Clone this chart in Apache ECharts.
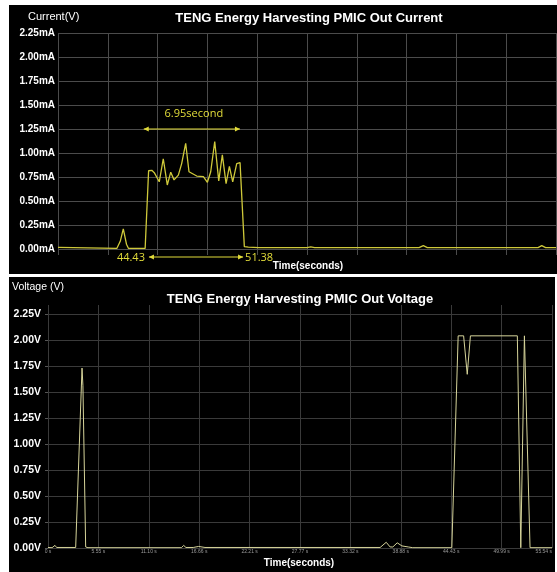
<!DOCTYPE html>
<html>
<head>
<meta charset="utf-8">
<script src="https://cdn.jsdelivr.net/npm/echarts@6/dist/echarts.min.js"></script>
<style>
  html, body { margin: 0; padding: 0; background: #fff; width: 557px; height: 572px; overflow: hidden; }
  #cur { position: absolute; left: 9px; top: 5px; width: 548px; height: 269px; }
  #vol { position: absolute; left: 9px; top: 277px; width: 546px; height: 295px; }
</style>
</head>
<body>
<div id="cur"></div>
<div id="vol"></div>
<script>
// ---- PMIC output current (mA) against time (s) ----
const currentTime = [
  38.00, 39.10, 39.20, 42.25, 42.50, 42.72, 42.95, 43.10, 44.30, 44.55,
  44.78, 44.96, 45.32, 45.61, 45.90, 46.15, 46.39, 46.70, 46.94, 47.23,
  47.47, 48.03, 48.51, 48.80, 49.04, 49.33, 49.62, 49.88, 50.15, 50.39,
  50.63, 50.92, 51.16, 51.23, 51.47, 51.76, 52.50, 56.00, 56.27, 56.55,
  64.10, 64.41, 64.70, 72.70, 72.97, 73.25, 74.00
];
const currentMilliamps = [
  0.016, 0.015, 0.006, 0.006, 0.08, 0.21, 0.05, 0.006, 0.006, 0.815,
  0.82, 0.795, 0.70, 0.94, 0.667, 0.80, 0.72, 0.77, 0.89, 1.10,
  0.805, 0.76, 0.753, 0.695, 0.805, 1.12, 0.71, 0.98, 0.68, 0.86,
  0.70, 0.89, 0.90, 0.89, 0.025, 0.02, 0.015, 0.015, 0.022, 0.015,
  0.015, 0.035, 0.015, 0.015, 0.035, 0.015, 0.015
];
const currentTickLabels = ['0.00mA', '0.25mA', '0.50mA', '0.75mA', '1.00mA',
  '1.25mA', '1.50mA', '1.75mA', '2.00mA', '2.25mA'];

// Harvesting window marked on the current trace
const pulseStart = 44.43;
const pulseEnd = 51.38;
const spanLabel = '6.95second';
const spanStart = 44.20;
const spanEnd = 51.15;

// ---- PMIC output voltage (V) against time (s) ----
const voltageTime = [
  0.00, 0.45, 0.62, 0.77, 0.95, 3.05, 3.75, 3.85, 4.15, 4.40,
  14.70, 14.95, 15.20, 16.00, 16.60, 17.30, 36.60, 37.27, 37.70, 38.00,
  38.48, 39.00, 39.70, 40.20, 44.50, 45.20, 45.80, 46.20, 46.55, 51.72,
  52.10, 52.21, 52.50, 52.60, 53.12, 55.54
];
const voltageVolts = [
  0.005, 0.003, 0.02, 0.025, 0.005, 0.005, 1.73, 1.56, 0.01, 0.003,
  0.003, 0.025, 0.005, 0.005, 0.015, 0.005, 0.005, 0.055, 0.01, 0.01,
  0.05, 0.02, 0.01, 0.003, 0.003, 2.04, 2.04, 1.67, 2.04, 2.04,
  0.003, 0.003, 2.04, 2.04, 0.003, 0.003
];
const voltageTickLabels = ['0.00V', '0.25V', '0.50V', '0.75V', '1.00V',
  '1.25V', '1.50V', '1.75V', '2.00V', '2.25V'];
const timeTickLabels = ['0 s', '5.55 s', '11.10 s', '16.66 s', '22.21 s',
  '27.77 s', '33.32 s', '38.88 s', '44.43 s', '49.99 s', '55.54 s'];

const FONT = '"Liberation Sans", Arial, Helvetica, sans-serif';
const NOTE_FONT = '"Open Sans", "Noto Sans", sans-serif';
const YELLOW = '#e2dc3a';

function pairs(xs, ys) { return xs.map((x, i) => [x, ys[i]]); }

function label(x, y, text, opts) {
  return {
    type: 'text', x: x, y: y, silent: true,
    style: Object.assign({
      text: text, fill: '#fff', font: 'bold 10px ' + FONT,
      textAlign: 'left', textVerticalAlign: 'middle'
    }, opts || {})
  };
}

function doubleArrow(x1, x2, y, color) {
  const h = 5, w = 2.5;
  return [
    { type: 'line', silent: true, shape: { x1: x1, y1: y, x2: x2, y2: y },
      style: { stroke: color, lineWidth: 1 } },
    { type: 'polygon', silent: true,
      shape: { points: [[x1, y], [x1 + h, y - w], [x1 + h, y + w]] },
      style: { fill: color } },
    { type: 'polygon', silent: true,
      shape: { points: [[x2, y], [x2 - h, y - w], [x2 - h, y + w]] },
      style: { fill: color } }
  ];
}

// ---------------- current chart ----------------
const cur = echarts.init(document.getElementById('cur'), null, { renderer: 'canvas' });
const CUR_GRID = '#4b4b4b';
cur.setOption({
  backgroundColor: '#000',
  animation: false,
  grid: { left: 49, right: 1, top: 28, bottom: 25 },
  xAxis: [
    { type: 'value', min: 38, max: 74, show: false },
    { type: 'value', min: 0, max: 10, interval: 1, position: 'bottom',
      axisLine: { show: false }, axisLabel: { show: false },
      axisTick: { show: true, length: 6, lineStyle: { color: CUR_GRID } },
      splitLine: { show: true, lineStyle: { color: CUR_GRID, width: 1 } } }
  ],
  yAxis: {
    type: 'value', min: 0, max: 2.25, interval: 0.25,
    axisLine: { show: false }, axisTick: { show: false },
    axisLabel: {
      color: '#fff', fontWeight: 'bold', fontSize: 10, fontFamily: FONT, margin: 3,
      formatter: v => currentTickLabels[Math.round(v / 0.25)]
    },
    splitLine: { show: true, lineStyle: { color: CUR_GRID, width: 1 } }
  },
  series: [{
    type: 'line', xAxisIndex: 0, data: pairs(currentTime, currentMilliamps),
    showSymbol: false, lineStyle: { color: '#cfc93a', width: 1.3 }
  }]
});

{
  const pA = cur.convertToPixel({ xAxisIndex: 0, yAxisIndex: 0 }, [pulseStart, 0]);
  const pB = cur.convertToPixel({ xAxisIndex: 0, yAxisIndex: 0 }, [pulseEnd, 0]);
  const sA = cur.convertToPixel({ xAxisIndex: 0, yAxisIndex: 0 }, [spanStart, 1.25]);
  const sB = cur.convertToPixel({ xAxisIndex: 0, yAxisIndex: 0 }, [spanEnd, 1.25]);
  const yBelow = pA[1] + 8;
  const els = [
    label(300, 13, 'TENG Energy Harvesting PMIC Out Current',
      { font: 'bold 13px ' + FONT, textAlign: 'center' }),
    label(19, 12, 'Current(V)', { font: '11px ' + FONT }),
    label(299, 261, 'Time(seconds)', { textAlign: 'center' }),
    label((sA[0] + sB[0]) / 2 + 2, sA[1] - 15, spanLabel,
      { font: '11px ' + NOTE_FONT, fill: YELLOW, textAlign: 'center' }),
    label(pA[0] - 2, yBelow + 1, String(pulseStart),
      { font: '11px ' + NOTE_FONT, fill: YELLOW, textAlign: 'right' }),
    label(pB[0] + 2, yBelow + 1, String(pulseEnd),
      { font: '11px ' + NOTE_FONT, fill: YELLOW, textAlign: 'left' })
  ].concat(doubleArrow(sA[0], sB[0], sA[1], YELLOW))
   .concat(doubleArrow(pA[0] + 2, pB[0], yBelow, YELLOW));
  cur.setOption({ graphic: { elements: els } });
}

// ---------------- voltage chart ----------------
const vol = echarts.init(document.getElementById('vol'), null, { renderer: 'canvas' });
const VOL_GRID = '#3a3a3a';
const TIME_STEP = 5.554;
vol.setOption({
  backgroundColor: '#000',
  animation: false,
  grid: { left: 39, right: 2, top: 37, bottom: 24 },
  xAxis: [
    { type: 'value', min: 0, max: 55.54, interval: TIME_STEP,
      axisLine: { show: false }, axisTick: { show: false },
      axisLabel: {
        color: '#9a9a9a', fontSize: 5, fontFamily: FONT, margin: 1,
        alignMaxLabel: 'right',
        formatter: v => timeTickLabels[Math.round(v / TIME_STEP)]
      },
      splitLine: { show: true, lineStyle: { color: VOL_GRID, width: 1 } } },
    { type: 'value', min: 0, max: 10, interval: 1, position: 'top',
      axisLine: { show: false }, axisLabel: { show: false }, splitLine: { show: false },
      axisTick: { show: true, length: 9, lineStyle: { color: VOL_GRID } } }
  ],
  yAxis: {
    type: 'value', min: 0, max: 2.25, interval: 0.25,
    axisLine: { show: false },
    axisTick: { show: true, length: 3, lineStyle: { color: '#555' } },
    axisLabel: {
      color: '#fff', fontWeight: 'bold', fontSize: 10.5, fontFamily: FONT, margin: 7,
      formatter: v => voltageTickLabels[Math.round(v / 0.25)]
    },
    splitLine: { show: true, lineStyle: { color: VOL_GRID, width: 1 } }
  },
  series: [{
    type: 'line', xAxisIndex: 0, data: pairs(voltageTime, voltageVolts),
    showSymbol: false, lineStyle: { color: '#d6d49a', width: 1 }
  }],
  graphic: { elements: [
    label(291, 22, 'TENG Energy Harvesting PMIC Out Voltage',
      { font: 'bold 13px ' + FONT, textAlign: 'center' }),
    label(3, 10, 'Voltage (V)', { font: '10.5px ' + FONT }),
    label(290, 286, 'Time(seconds)', { textAlign: 'center' })
  ] }
});
</script>
</body>
</html>
